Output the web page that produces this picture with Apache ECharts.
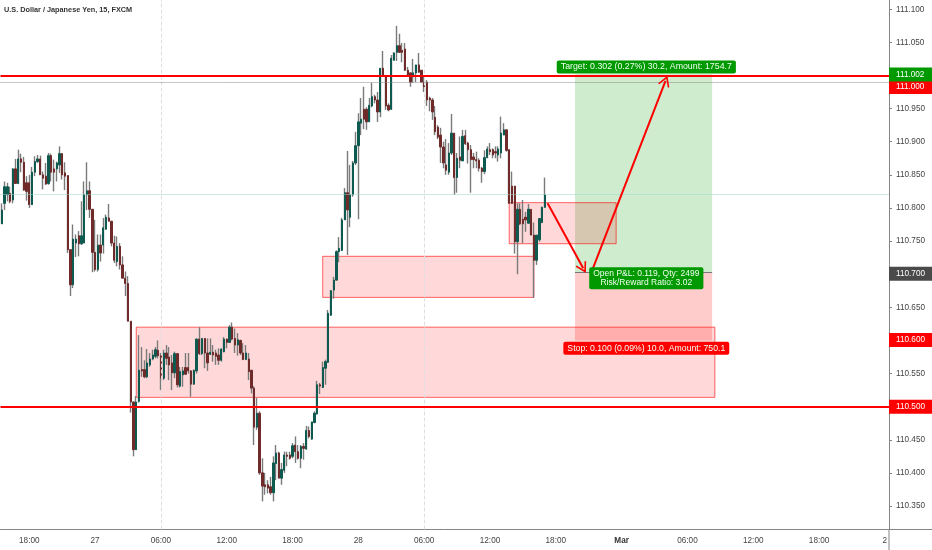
<!DOCTYPE html>
<html><head><meta charset="utf-8">
<style>html,body{margin:0;padding:0;background:#fff}#c{width:932px;height:550px}</style>
<script src="https://cdn.jsdelivr.net/npm/echarts@6/dist/echarts.min.js"></script>
</head><body><div id="c"></div>
<script>
const title = "U.S. Dollar / Japanese Yen, 15, FXCM";
const barCount = 324;
const tickIndex = [10,34,58,82,106,130,154,178,202,226,250,274,298,322];
const tickNames = ["18:00","27","06:00","12:00","18:00","28","06:00","12:00","18:00","Mar","06:00","12:00","18:00","2"];
const priceTicks = [110.35,110.4,110.45,110.5,110.55,110.6,110.65,110.7,110.75,110.8,110.85,110.9,110.95,111,111.05,111.1];
const opens = [110.776,110.807,110.820,110.822,110.812,110.859,110.837,110.874,110.869,110.838,
110.838,110.805,110.854,110.870,110.874,110.850,110.848,110.837,110.879,110.859,
110.859,110.865,110.882,110.853,110.849,110.737,110.684,110.747,110.758,110.746,
110.747,110.820,110.826,110.798,110.733,110.707,110.744,110.744,110.768,110.785,
110.780,110.747,110.719,110.742,110.714,110.694,110.686,110.629,110.507,110.435,
110.508,110.556,110.556,110.545,110.563,110.572,110.576,110.585,110.577,110.543,
110.581,110.575,110.566,110.551,110.580,110.531,110.548,110.559,110.559,110.554,
110.534,110.554,110.602,110.580,110.603,110.581,110.579,110.582,110.581,110.578,
110.570,110.583,110.602,110.597,110.620,110.603,110.593,110.600,110.581,110.571,
110.572,110.555,110.528,110.469,110.490,110.400,110.382,110.382,110.379,110.370,
110.414,110.430,110.392,110.404,110.427,110.427,110.425,110.442,110.432,110.422,
110.440,110.436,110.464,110.451,110.476,110.489,110.533,110.529,110.558,110.567,
110.638,110.676,110.691,110.734,110.736,110.782,110.823,110.786,110.820,110.868,
110.894,110.928,110.949,110.949,110.930,110.954,110.968,110.963,110.945,111.011,
110.999,110.955,110.949,111.023,111.035,111.045,111.038,111.040,111.008,111.004,
110.998,111.004,111.016,111.008,110.990,110.990,110.966,110.963,110.937,110.922,
110.910,110.892,110.865,110.854,110.883,110.913,110.846,110.877,110.871,110.909,
110.898,110.888,110.877,110.873,110.872,110.860,110.855,110.876,110.888,110.888,
110.885,110.880,110.883,110.910,110.918,110.888,110.833,110.833,110.749,110.798,
110.783,110.786,110.777,110.798,110.759,110.721,110.752,110.778,110.801];
const closes = [110.797,110.832,110.832,110.810,110.859,110.837,110.874,110.869,110.827,110.825,
110.805,110.854,110.870,110.874,110.850,110.845,110.836,110.879,110.854,110.854,
110.868,110.882,110.850,110.848,110.737,110.684,110.753,110.753,110.746,110.758,
110.820,110.826,110.798,110.733,110.707,110.744,110.732,110.770,110.786,110.780,
110.747,110.721,110.742,110.714,110.694,110.686,110.629,110.507,110.435,110.507,
110.555,110.554,110.545,110.566,110.572,110.578,110.586,110.577,110.543,110.581,
110.573,110.563,110.551,110.580,110.533,110.553,110.554,110.549,110.554,110.534,
110.555,110.602,110.580,110.603,110.581,110.566,110.582,110.578,110.576,110.570,
110.587,110.602,110.597,110.620,110.602,110.593,110.601,110.581,110.571,110.581,
110.553,110.528,110.469,110.490,110.400,110.380,110.379,110.377,110.370,110.415,
110.430,110.392,110.405,110.427,110.425,110.422,110.441,110.432,110.422,110.440,
110.437,110.464,110.455,110.477,110.490,110.533,110.531,110.559,110.568,110.641,
110.675,110.691,110.734,110.739,110.782,110.823,110.797,110.820,110.868,110.894,
110.930,110.934,110.934,110.930,110.955,110.968,110.963,110.945,111.011,110.999,
110.954,110.948,111.026,111.034,111.045,111.035,111.035,111.008,111.001,110.990,
111.004,111.016,111.005,110.990,110.983,110.963,110.963,110.945,110.915,110.907,
110.892,110.868,110.857,110.883,110.913,110.846,110.875,110.872,110.908,110.897,
110.888,110.873,110.873,110.871,110.860,110.855,110.876,110.889,110.885,110.880,
110.883,110.889,110.913,110.918,110.887,110.807,110.807,110.749,110.798,110.776,
110.776,110.782,110.798,110.759,110.721,110.759,110.784,110.801,110.820];
const lows = [110.776,110.797,110.810,110.807,110.807,110.837,110.836,110.854,110.826,110.811,
110.800,110.805,110.848,110.868,110.850,110.828,110.835,110.835,110.840,110.825,
110.840,110.853,110.843,110.827,110.732,110.667,110.679,110.726,110.727,110.744,
110.747,110.797,110.785,110.703,110.704,110.704,110.719,110.731,110.767,110.780,
110.742,110.717,110.712,110.707,110.694,110.667,110.629,110.491,110.425,110.435,
110.506,110.545,110.543,110.543,110.560,110.570,110.573,110.573,110.525,110.540,
110.563,110.540,110.525,110.543,110.529,110.529,110.530,110.548,110.550,110.515,
110.533,110.550,110.578,110.578,110.558,110.554,110.578,110.568,110.563,110.563,
110.568,110.582,110.588,110.596,110.600,110.581,110.577,110.578,110.571,110.571,
110.540,110.520,110.442,110.465,110.397,110.357,110.367,110.369,110.367,110.357,
110.389,110.392,110.382,110.400,110.410,110.420,110.422,110.415,110.420,110.407,
110.420,110.435,110.452,110.450,110.475,110.488,110.519,110.528,110.533,110.566,
110.637,110.663,110.691,110.718,110.735,110.782,110.729,110.771,110.817,110.865,
110.783,110.910,110.919,110.918,110.930,110.952,110.958,110.930,110.937,110.998,
110.948,110.946,110.948,111.023,111.022,111.034,111.020,111.007,110.998,110.983,
110.989,110.990,111.004,110.990,110.975,110.954,110.946,110.933,110.910,110.904,
110.868,110.860,110.850,110.850,110.880,110.820,110.823,110.860,110.871,110.895,
110.867,110.823,110.860,110.860,110.855,110.838,110.851,110.875,110.880,110.875,
110.875,110.870,110.875,110.910,110.885,110.807,110.806,110.731,110.700,110.774,
110.747,110.764,110.776,110.759,110.664,110.714,110.749,110.777,110.800];
const highs = [110.807,110.840,110.838,110.832,110.860,110.874,110.888,110.882,110.877,110.848,
110.850,110.862,110.878,110.880,110.879,110.855,110.868,110.883,110.882,110.873,
110.870,110.893,110.883,110.869,110.849,110.737,110.775,110.760,110.765,110.810,
110.840,110.869,110.840,110.798,110.782,110.760,110.760,110.785,110.790,110.806,
110.780,110.758,110.757,110.747,110.727,110.704,110.697,110.629,110.508,110.516,
110.608,110.590,110.570,110.587,110.581,110.586,110.590,110.600,110.581,110.586,
110.593,110.590,110.578,110.583,110.581,110.560,110.560,110.581,110.581,110.555,
110.556,110.603,110.620,110.603,110.603,110.603,110.603,110.593,110.586,110.588,
110.588,110.605,110.603,110.623,110.627,110.618,110.611,110.601,110.596,110.593,
110.581,110.555,110.531,110.513,110.493,110.422,110.400,110.389,110.394,110.425,
110.442,110.432,110.415,110.432,110.432,110.432,110.445,110.455,110.442,110.442,
110.445,110.471,110.470,110.477,110.493,110.539,110.536,110.568,110.571,110.646,
110.676,110.696,110.736,110.756,110.785,110.830,110.886,110.865,110.871,110.915,
110.943,110.966,110.983,110.952,110.966,110.989,110.971,110.975,111.011,111.037,
111.001,110.958,111.031,111.035,111.075,111.063,111.049,111.049,111.013,111.004,
111.025,111.016,111.034,111.008,110.998,110.993,110.968,110.966,110.954,110.925,
110.921,110.900,110.904,110.898,110.942,110.913,110.883,110.908,110.918,110.918,
110.900,110.895,110.883,110.885,110.875,110.862,110.887,110.893,110.898,110.890,
110.893,110.893,110.938,110.928,110.918,110.888,110.855,110.833,110.807,110.807,
110.812,110.794,110.806,110.798,110.778,110.759,110.784,110.802,110.846];
const supportResistance = [111.0, 110.5];
const lastPrice = 110.819, dottedLevel = 110.992, entryPrice = 110.703;
const boxes = [[49,260,110.620,110.514],[117,194,110.727,110.665],[185,224,110.808,110.746]];
const profitZone = [209,259,111.002,110.703], lossZone = [209,259,110.703,110.600];
const arrows = [[[199,110.807],[212,110.709]],[[215,110.703],[242,110.992]]];
const FONT = "Liberation Sans, Arial, sans-serif";

const categories = Array.from({length: barCount}, (_, i) => String(i));
const wickData = opens.map((o, i) => [o, closes[i], lows[i], highs[i]]);
const bodyData = opens.map((o, i) => [o, closes[i], Math.min(o, closes[i]), Math.max(o, closes[i])]);
const nameAt = i => tickNames[tickIndex.indexOf(i)];
const isTick = i => tickIndex.includes(i);
const chev = 'path://M0,11 L5,0 L10,11 L8.8,11.6 L5,3.6 L1.2,11.6 Z';
const priceTag = (value, text, bg, dy) => ({
  yAxis: value, lineStyle: {color: 'rgba(0,0,0,0)', width: 0}, symbol: 'none',
  label: {show: true, position: 'end', formatter: text, backgroundColor: bg, color: '#fff', fontSize: 8.2, fontFamily: FONT,
    width: 32, height: 8, lineHeight: 8, padding: [3, 4, 3, 7], distance: 0, offset: [0, dy], align: 'left', verticalAlign: 'middle'}
});
const note = (x, y, text, bg, lh, size) => ({
  coord: [x, y], symbol: 'circle', symbolSize: 1, itemStyle: {color: 'rgba(0,0,0,0)'},
  label: {show: true, position: 'inside', formatter: text, backgroundColor: bg, color: '#f2fff2', fontSize: size, fontFamily: FONT,
    lineHeight: lh, padding: [2, 4], borderRadius: 2, align: 'center', verticalAlign: 'middle'}
});
const boxFill = {color: 'rgba(255,0,0,0.15)', borderColor: 'rgba(255,0,0,0.6)', borderWidth: 1};

const chart = echarts.init(document.getElementById('c'), null, {renderer: 'canvas'});
chart.setOption({
  animation: false,
  backgroundColor: '#fff',
  title: {text: title, left: 4, top: 6, padding: 0, textStyle: {fontSize: 7.3, fontWeight: 'bold', color: '#333', fontFamily: FONT}},
  grid: {left: 0.5, width: 888.5, top: 0, height: 529.5},
  xAxis: {type: 'category', data: categories, boundaryGap: true,
    axisLine: {lineStyle: {color: '#858585', width: 1}},
    axisTick: {alignWithLabel: true, interval: i => isTick(i), length: 3, lineStyle: {color: '#858585'}},
    axisLabel: {interval: i => isTick(i), fontSize: 8.2, color: '#444', fontFamily: FONT, margin: 7,
      formatter: (v, i) => { const n = nameAt(+v); return n === 'Mar' ? '{b|Mar}' : n; },
      rich: {b: {fontWeight: 'bold', fontSize: 8.2, color: '#333', fontFamily: FONT}}},
    splitLine: {show: false}},
  yAxis: {type: 'value', position: 'right', min: 110.3145, max: 111.114, scale: true,
    axisLine: {show: true, lineStyle: {color: '#858585', width: 1}},
    axisTick: {show: true, length: 3, customValues: priceTicks, lineStyle: {color: '#858585'}},
    axisLabel: {fontSize: 8.2, color: '#444', fontFamily: FONT, margin: 7, customValues: priceTicks, formatter: v => v.toFixed(3)},
    splitLine: {show: false}},
  graphic: [
    {type: 'line', shape: {x1: 889, y1: 529.5, x2: 932, y2: 529.5}, style: {stroke: '#858585', lineWidth: 1}},
    {type: 'line', shape: {x1: 889, y1: 529.5, x2: 889, y2: 550}, style: {stroke: '#858585', lineWidth: 1}}
  ],
  series: [
    {type: 'line', name: 'zones', data: [], z: 1, silent: true,
      markArea: {silent: true, data: [
        [{xAxis: profitZone[0], yAxis: profitZone[2], itemStyle: {color: 'rgba(0,153,0,0.19)'}}, {xAxis: profitZone[1], yAxis: profitZone[3]}],
        [{xAxis: lossZone[0], yAxis: lossZone[2], itemStyle: {color: 'rgba(255,0,0,0.2)'}}, {xAxis: lossZone[1], yAxis: lossZone[3]}]
      ]},
      markLine: {silent: true, symbol: 'none', label: {show: false}, data: [
        {xAxis: tickIndex[2], lineStyle: {color: '#dedede', type: 'dashed', width: 1}},
        {xAxis: tickIndex[6], lineStyle: {color: '#dedede', type: 'dashed', width: 1}},
        {yAxis: lastPrice, lineStyle: {color: '#9ad6cb', type: 'dotted', width: 1}},
        {yAxis: dottedLevel, lineStyle: {color: '#8a8a8a', type: 'dotted', width: 1}}
      ]}},
    {type: 'candlestick', name: 'wicks', data: wickData, barWidth: 1, z: 3, silent: true,
      itemStyle: {color: '#7a7a7a', color0: '#7a7a7a', borderColor: '#7a7a7a', borderColor0: '#7a7a7a', borderWidth: 1.4}},
    {type: 'candlestick', name: 'USDJPY', data: bodyData, barWidth: 1.8, z: 4, silent: true,
      itemStyle: {color: '#0e5a50', color0: '#6f2a2a', borderColor: '#0e5a50', borderColor0: '#6f2a2a', borderWidth: 1}},
    {type: 'line', name: 'annotations', data: [], z: 6, silent: true,
      markArea: {silent: true, itemStyle: boxFill, data: boxes.map(b => [{xAxis: b[0], yAxis: b[2]}, {xAxis: b[1], yAxis: b[3]}])},
      markLine: {silent: true, symbol: 'none', label: {show: false}, data: [
        {yAxis: supportResistance[0], lineStyle: {color: '#ff0000', type: 'solid', width: 2}},
        {yAxis: supportResistance[1], lineStyle: {color: '#ff0000', type: 'solid', width: 2}},
        [{coord: [profitZone[0], entryPrice], lineStyle: {color: '#777', type: 'solid', width: 1}}, {coord: [profitZone[1], entryPrice]}],
        ...arrows.map(a => [{coord: a[0], symbol: 'none', lineStyle: {color: '#ff0000', type: 'solid', width: 2}}, {coord: a[1], symbol: chev, symbolSize: [12, 11]}]),
        priceTag(111.0, '111.000', '#ff0000', 11.5),
        priceTag(111.002, '111.002', '#009900', -1),
        priceTag(110.7, '110.700', '#4a4a4a', -0.5),
        priceTag(110.6, '110.600', '#ff0000', -0.5),
        priceTag(110.5, '110.500', '#ff0000', 0)
      ]},
      markPoint: {silent: true, data: [
        note(235, 111.013, 'Target: 0.302 (0.27%) 30.2, Amount: 1754.7', '#009900', 9, 8.8),
        note(235, 110.694, 'Open P&L: 0.119, Qty: 2499\nRisk/Reward Ratio: 3.02', '#009900', 9, 8.5),
        note(235, 110.588, 'Stop: 0.100 (0.09%) 10.0, Amount: 750.1', '#ff0000', 9, 8.7)
      ]}}
  ]
});
</script></body></html>
